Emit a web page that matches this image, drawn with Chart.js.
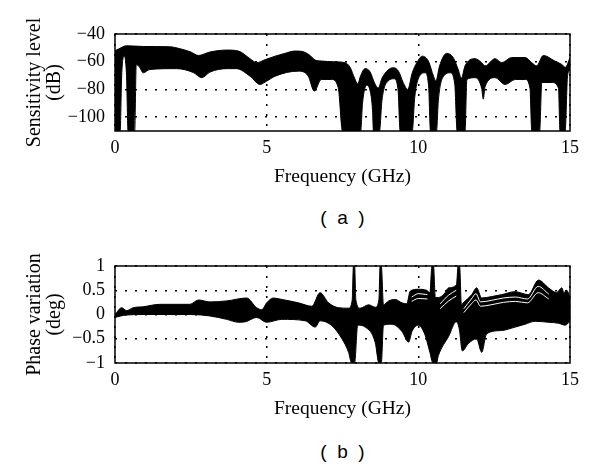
<!DOCTYPE html>
<html>
<head>
<meta charset="utf-8">
<script src="https://cdn.jsdelivr.net/npm/chart.js@4.4.1/dist/chart.umd.min.js"></script>
<style>
  body { margin:0; background:#fff; }
  #wrap { position:relative; width:600px; height:469px; }
  canvas { position:absolute; left:0; }
  .cap { position:absolute; left:115px; width:455px; text-align:center; white-space:pre;
         font-family:"Liberation Sans", Arial, sans-serif; font-size:19px; color:#000; }
</style>
</head>
<body>
<div id="wrap">
  <canvas id="sens" width="600" height="200" style="top:0"></canvas>
  <div class="cap" style="top:207px">(  a  )</div>
  <canvas id="phase" width="600" height="200" style="top:232px"></canvas>
  <div class="cap" style="top:441px">(  b  )</div>
</div>
<script>
// (a) sensitivity level, upper and lower edge of the bundle of traces
var freqSensUp = [0,0.1,0.38,0.93,1.8,2.14,2.5,2.75,3.13,3.68,4.07,4.45,4.67,4.95,5.28,5.6,5.93,6.15,6.4,6.6,6.8,7.2,7.58,7.75,7.9,8.0,8.1,8.24,8.4,8.57,8.68,8.8,9.0,9.18,9.35,9.5,9.65,9.8,9.95,10.13,10.33,10.5,10.58,10.7,10.93,11.15,11.32,11.42,11.54,11.87,12.09,12.2,12.53,12.75,13.08,13.52,13.74,13.9,14.12,14.5,14.73,14.85,15];
var sensUp     = [-52,-51,-48.5,-49,-49.2,-50.6,-53,-55.5,-53,-51.6,-52.3,-57.8,-60.7,-58.5,-56,-54,-52.3,-52.5,-55,-58.8,-59.5,-60,-60.7,-64,-72,-76,-70,-65,-67,-76,-79,-72,-66,-64.3,-67,-75,-80,-68,-60.7,-56,-59.5,-70.4,-74,-63,-54,-57,-66,-72,-63,-57.8,-60.7,-63,-57.8,-60.7,-57,-57,-60.7,-63,-55.5,-59.5,-62,-64,-57];
var freqSensLo = [0,0.17,0.22,0.3,0.38,0.43,0.65,0.7,0.82,0.93,1.15,2.03,2.58,2.86,3.13,3.7,4.0,4.45,4.78,5.0,5.28,6.04,6.37,6.57,6.8,7.14,7.36,7.5,8.1,8.16,8.3,8.42,8.49,8.52,8.72,8.8,9.0,9.2,9.33,9.4,9.8,9.88,10.05,10.22,10.34,10.4,10.6,10.66,10.85,11.05,11.2,11.28,11.54,11.6,11.87,12.09,12.14,12.2,12.53,12.86,13.2,13.52,13.68,13.74,14.0,14.07,14.4,14.62,14.67,14.84,14.92,15];
var sensLo     = [-110,-110,-70,-56,-70,-110,-110,-62,-64.3,-68,-65.6,-65,-67.8,-71.5,-67.5,-65,-65,-70.4,-76.4,-74,-70.4,-66.8,-70.4,-81.2,-72.8,-72.8,-78.8,-110,-110,-90,-77,-82,-95,-110,-110,-88,-74,-72.3,-80,-110,-110,-86,-70,-68,-78,-110,-110,-88,-70,-68,-76,-110,-110,-72.8,-71.5,-79.5,-87,-78,-71.5,-76.4,-72.8,-72.8,-79,-110,-110,-75,-75,-79,-110,-110,-70,-66];

// (b) phase variation, upper and lower edge
var freqPhaseUp = [0,0.22,0.38,0.6,0.93,1.48,2.47,2.75,3.13,3.68,4.34,4.67,4.84,5.0,5.22,5.5,6.05,6.49,6.76,7.04,7.37,7.7,7.82,7.86,7.9,7.94,8.08,8.36,8.58,8.7,8.74,8.78,8.85,9.02,9.24,9.46,9.62,9.73,10.0,10.27,10.38,10.45,10.5,10.56,10.66,10.85,11.0,11.26,11.31,11.36,11.42,11.48,11.76,11.92,12.09,12.42,12.75,13.19,13.63,13.96,14.29,14.56,14.73,14.8,14.89,15];
var phaseUp     = [0,0.14,0.08,0.14,0.16,0.21,0.21,0.3,0.26,0.28,0.34,0.14,0.1,0.24,0.34,0.31,0.24,0.17,0.45,0.24,0.14,0.13,0.3,1,1,0.3,0.13,0.2,0.15,0.3,1,1,0.2,0.28,0.31,0.24,0.22,0.48,0.52,0.5,0.45,1,1,0.35,0.35,0.42,0.55,0.62,1,1,0.2,0.24,0.41,0.55,0.34,0.37,0.41,0.47,0.41,0.71,0.55,0.45,0.55,0.45,0.5,0.35];
var freqPhaseLo = [0,0.38,1.0,2.5,3.13,3.68,4.07,4.3,4.67,5.0,5.5,6.27,6.6,6.76,7.15,7.48,7.7,7.8,7.9,8.0,8.25,8.58,8.7,8.78,8.85,9.13,9.46,9.68,9.79,10.0,10.22,10.38,10.48,10.6,10.66,11.0,11.25,11.35,11.45,11.65,11.92,12.09,12.25,12.75,13.19,13.52,13.85,14.29,14.62,14.84,15];
var phaseLo     = [-0.06,-0.01,0,0,-0.03,-0.1,-0.16,-0.15,-0.06,-0.16,-0.1,-0.13,-0.26,-0.13,-0.23,-0.5,-0.78,-1,-1,-0.22,-0.26,-0.58,-1,-1,-0.22,-0.2,-0.35,-0.57,-0.35,-0.22,-0.42,-0.78,-1,-1,-0.85,-0.45,-0.15,-0.3,-0.75,-0.6,-0.5,-0.78,-0.4,-0.33,-0.26,-0.2,-0.14,-0.16,-0.18,-0.22,-0.14];

// light gaps seen between single traces near the top of the phase bundle (null = break)
var freqGap   = [9.78,10.0,10.3,10.5,10.72,11.0,11.25,11.4,11.5,11.75,11.9,12.05,12.4,12.8,13.2,13.6,13.95,14.3];
var phaseGapA = [0.36,0.43,0.41,null,0.22,0.4,0.5,null,0.12,0.32,0.43,0.26,0.29,0.34,0.36,0.32,0.58,0.42];
var phaseGapB = [0.27,0.33,0.32,null,0.12,0.28,0.38,null,0.04,0.22,0.3,0.17,0.2,0.25,0.27,0.24,0.45,0.32];

var freqTicks = [0,5,10,15];
var sensTicks = [-100,-80,-60,-40];
var phaseTicks = [-1,-0.5,0,0.5,1];

Chart.defaults.color = '#000';
Chart.defaults.font.family = '"Liberation Serif", "Times New Roman", serif';

function pts(xs, ys){ return xs.map(function(x,i){ return {x:x, y:ys[i]}; }); }
function minus(v){ return String(v).replace('-', '\u2212'); }

// solid frame around the plot area
var frame = {
  id:'frame',
  afterDraw:function(chart){
    var a = chart.chartArea, c = chart.ctx;
    c.save(); c.strokeStyle='#000'; c.lineWidth=1.5;
    c.strokeRect(a.left, a.top, a.right-a.left, a.bottom-a.top);
    c.restore();
  }
};

var makeChart = function(id, sets, yMin, yMax, yTicks, yTitle){
  var dotted = { color:'#000', lineWidth:1.5, drawTicks:false };
  return new Chart(document.getElementById(id), {
    type:'line',
    data:{ datasets:sets },
    options:{
      responsive:false, animation:false, events:[],
      layout:{ padding:{ top:34, right:30, bottom:9, left:0 } },
      plugins:{ legend:{display:false}, tooltip:{enabled:false} },
      scales:{
        x:{ type:'linear', min:0, max:15,
            afterBuildTicks:function(s){ s.ticks = freqTicks.map(function(v){return {value:v};}); },
            afterFit:function(s){ s.height = 60; },
            grid:dotted, border:{ display:false, dash:[2,8] },
            ticks:{ padding:6, font:{size:18}, maxRotation:0, autoSkip:false },
            title:{ display:true, text:'Frequency (GHz)', font:{size:19.5}, padding:{top:0,bottom:2} } },
        y:{ min:yMin, max:yMax,
            afterBuildTicks:function(s){ s.ticks = yTicks.map(function(v){return {value:v};}); },
            afterFit:function(s){ s.width = 115; },
            grid:dotted, border:{ display:false, dash:[2,8] },
            ticks:{ padding:10, font:{size:18}, autoSkip:false, callback:function(v){ return minus(v); } },
            title:{ display:true, text:yTitle, font:{size:20, lineHeight:1.0}, padding:{top:25,bottom:0} } }
      }
    },
    plugins:[frame]
  });
};

var band = function(up, lo){
  return [
    { data:up, borderColor:'#000', borderWidth:1, pointRadius:0, fill:false, cubicInterpolationMode:'monotone' },
    { data:lo, borderColor:'#000', borderWidth:1, pointRadius:0, fill:'-1', backgroundColor:'#000', cubicInterpolationMode:'monotone' }
  ];
};
var gap = function(d){
  return { data:d, order:-1, borderColor:'#fff', borderWidth:1, pointRadius:0, fill:false, spanGaps:false, cubicInterpolationMode:'monotone' };
};

var sensChart = makeChart('sens', band(pts(freqSensUp, sensUp), pts(freqSensLo, sensLo)),
  -110, -40, sensTicks, ['Sensitivity level','(dB)']);
var phaseSets = band(pts(freqPhaseUp, phaseUp), pts(freqPhaseLo, phaseLo));
phaseSets.push(gap(pts(freqGap, phaseGapA)), gap(pts(freqGap, phaseGapB)));
var phaseChart = makeChart('phase', phaseSets, -1, 1, phaseTicks, ['Phase variation','(deg)']);
</script>
</body>
</html>
